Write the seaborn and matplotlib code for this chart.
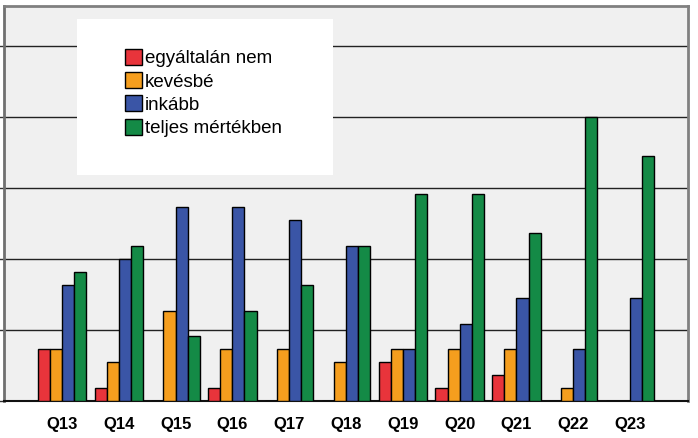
import pandas as pd
import numpy as np
import seaborn as sns
import matplotlib.pyplot as plt
from matplotlib.patches import Rectangle

questions = ["Q13", "Q14", "Q15", "Q16", "Q17", "Q18", "Q19", "Q20", "Q21", "Q22", "Q23"]
categories = ["egyáltalán nem", "kevésbé", "inkább", "teljes mértékben"]
egyaltalan_nem = [4, 1, 0, 1, 0, 0, 3, 1, 2, 0, 0]
kevesbe = [4, 3, 7, 4, 4, 3, 4, 4, 4, 1, 0]
inkabb = [9, 11, 15, 15, 14, 12, 4, 6, 8, 4, 8]
teljes = [10, 12, 5, 7, 9, 12, 16, 16, 13, 22, 19]
colors = ["#E8343B", "#F59E1E", "#3A55A6", "#148A46"]

rows = []
for cat, vals in zip(categories, [egyaltalan_nem, kevesbe, inkabb, teljes]):
    for q, v in zip(questions, vals):
        rows.append({"q": q, "cat": cat, "n": v})
df = pd.DataFrame(rows)

sns.set_style("white")
plt.rcParams["font.family"] = ["Liberation Sans", "DejaVu Sans"]
plt.rcParams["text.color"] = "black"

fig = plt.figure(figsize=(6.98, 4.38), dpi=100)
ax = fig.add_axes([4 / 698, 37 / 438, 684 / 698, 395 / 438])
ax.set_facecolor("#F0F0F0")

sns.barplot(data=df, x="q", y="n", hue="cat", palette=colors, width=0.85,
            saturation=1, edgecolor="black", linewidth=1, ax=ax, zorder=3)

ax.set_xlim(-1.02, 11.02)
ax.set_ylim(0, 30.6)
ax.set_yticks(np.arange(0, 30, 5.5))
ax.set_yticklabels([])
ax.yaxis.grid(True, color="#222222", linewidth=1)
ax.set_axisbelow(True)
ax.set_xlabel("")
ax.set_ylabel("")
ax.tick_params(axis="x", length=8, width=1.2, color="#333333", labelsize=12,
               labelcolor="black", pad=3.5)
ax.tick_params(axis="y", length=4, width=1, color="#333333", left=True)
for lbl in ax.get_xticklabels():
    lbl.set_fontweight("bold")

ax.spines["left"].set_color("#707070")
ax.spines["left"].set_linewidth(2)
ax.spines["top"].set_color("#808080")
ax.spines["top"].set_linewidth(2)
ax.spines["right"].set_color("#808080")
ax.spines["right"].set_linewidth(2)
ax.spines["bottom"].set_color("#111111")
ax.spines["bottom"].set_linewidth(1.5)

ax.add_patch(Rectangle((73 / 684, (401 - 175) / 395), 256 / 684, 156 / 395,
                       transform=ax.transAxes, facecolor="white", edgecolor="none", zorder=4))
handles, labels = ax.get_legend_handles_labels()
leg = ax.legend(handles, labels, loc="upper left", bbox_to_anchor=(121 / 684, (401 - 49) / 395),
                frameon=False, fontsize=13.5, handlelength=0.92, handleheight=0.92,
                handletextpad=0.15, labelspacing=0.26, borderpad=0, borderaxespad=0,
                labelcolor="black")
leg.set_zorder(5)

fig.savefig("out.png", dpi=100)
